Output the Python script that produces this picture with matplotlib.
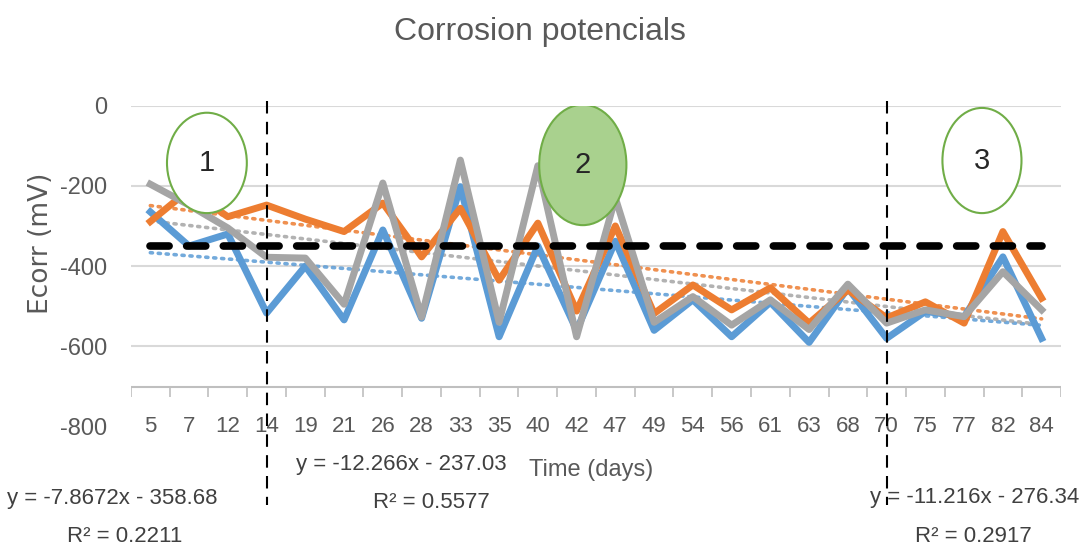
import matplotlib.pyplot as plt
from matplotlib.patches import Ellipse
import numpy as np

# Datos
dias = ["5", "7", "12", "14", "19", "21", "26", "28", "33", "35", "40", "42",
        "47", "49", "54", "56", "61", "63", "68", "70", "75", "77", "82", "84"]
azul = [-265, -350, -320, -517, -400, -534, -310, -530, -202, -576, -350, -560,
        -338, -560, -484, -576, -490, -590, -455, -580, -513, -526, -377, -580]
naranja = [-289, -210, -277, -248, -283, -314, -243, -377, -256, -435, -293, -512,
           -300, -518, -447, -509, -454, -542, -459, -529, -489, -542, -314, -480]
gris = [-196, -248, -305, -378, -380, -495, -193, -527, -136, -540, -150, -576,
        -230, -540, -476, -547, -484, -558, -445, -542, -509, -526, -414, -509]

# Líneas de tendencia (pendiente, ordenada) según las ecuaciones mostradas
tend_azul = (-7.8672, -358.68)
tend_naranja = (-12.266, -237.03)
tend_gris = (-11.216, -276.34)

umbral = -350
dias_limite = ["14", "70"]
etiquetas_y = [0, -200, -400, -600, -800]

c_azul, c_naranja, c_gris = "#5B9BD5", "#ED7D31", "#A5A5A5"
texto = "#595959"
plt.rcParams["font.family"] = ["Liberation Sans", "DejaVu Sans"]
plt.rcParams["axes.unicode_minus"] = False

fig = plt.figure(figsize=(10.84, 5.53), dpi=100)
ax = fig.add_axes([0.1208, 0.2284, 0.858, 0.5808])

x = np.arange(len(dias))
idx = x + 1

# Cuadrícula y eje horizontal (cruza en -700)
for v in etiquetas_y[:-1]:
    ax.axhline(v, color="#D9D9D9", linewidth=1.5, zorder=0)
ax.axhline(-700, color="#BFBFBF", linewidth=1.5, zorder=0)
ax.vlines(np.arange(len(dias) + 1) - 0.5, -700, -727, color="#BFBFBF", linewidth=1.2)

# Tendencias punteadas
for (m, b), c in [(tend_azul, c_azul), (tend_naranja, c_naranja), (tend_gris, c_gris)]:
    ax.plot(x, m * idx + b, color=c, linewidth=2.6, linestyle=(0, (0.6, 1.6)),
            dash_capstyle="round", alpha=0.85, zorder=2)

ax.plot(x, azul, color=c_azul, linewidth=5, zorder=3)
ax.plot(x, naranja, color=c_naranja, linewidth=5, zorder=4)
ax.plot(x, gris, color=c_gris, linewidth=5, zorder=5)

# Umbral horizontal
ax.plot([x[0], x[-1]], [umbral, umbral], color="black", linewidth=5.5,
        linestyle=(0, (2.5, 2.3)), dash_capstyle="round", zorder=6)

# Límites verticales entre etapas
for d in dias_limite:
    i = dias.index(d)
    ax.plot([i, i], [12, -995], color="black", linewidth=1.5,
            linestyle=(0, (6, 4)), clip_on=False, zorder=6)

# Círculos de etapas
circulos = [(1.46, -143, 2.06, 250, "white", "1"),
            (11.16, -148, 2.25, 300, "#A9D18E", "2"),
            (21.46, -137, 2.04, 262, "white", "3")]
for cx, cy, w, h, fc, t in circulos:
    ax.add_patch(Ellipse((cx, cy), w, h, facecolor=fc, edgecolor="#70AD47",
                         linewidth=1.5, zorder=7))
    ax.text(cx, cy, t, ha="center", va="center", fontsize=21, color="#262626", zorder=8)

ax.set_xlim(-0.5, len(dias) - 0.5)
ax.set_ylim(-800, 0)
ax.set_xticks(x)
ax.set_xticklabels(dias)
ax.set_yticks(etiquetas_y)
ax.tick_params(axis="both", length=0, labelsize=16, labelcolor=texto)
ax.tick_params(axis="y", pad=17, labelsize=17)
ax.tick_params(axis="x", pad=0)
for lbl in ax.get_xticklabels():
    lbl.set_va("center")
for s in ax.spines.values():
    s.set_visible(False)

fig.text(0.498, 0.942, "Corrosion potencials", ha="center", va="center",
         fontsize=23, color=texto)
fig.text(0.038, 0.560, "Ecorr (mV)", rotation=90, ha="center", va="center",
         fontsize=19, color=texto, family="DejaVu Sans")
fig.text(0.545, 0.150, "Time (days)", ha="center", va="center", fontsize=17, color=texto)

eq = "#404040"
fig.text(0.370, 0.160, "y = -12.266x - 237.03", ha="center", va="center", fontsize=16, color=eq)
fig.text(0.398, 0.092, "R² = 0.5577", ha="center", va="center", fontsize=16, color=eq)
fig.text(0.104, 0.099, "y = -7.8672x - 358.68", ha="center", va="center", fontsize=16, color=eq)
fig.text(0.115, 0.029, "R² = 0.2211", ha="center", va="center", fontsize=16, color=eq)
fig.text(0.899, 0.101, "y = -11.216x - 276.34", ha="center", va="center", fontsize=16, color=eq)
fig.text(0.898, 0.029, "R² = 0.2917", ha="center", va="center", fontsize=16, color=eq)

fig.savefig("out.png", dpi=100)
